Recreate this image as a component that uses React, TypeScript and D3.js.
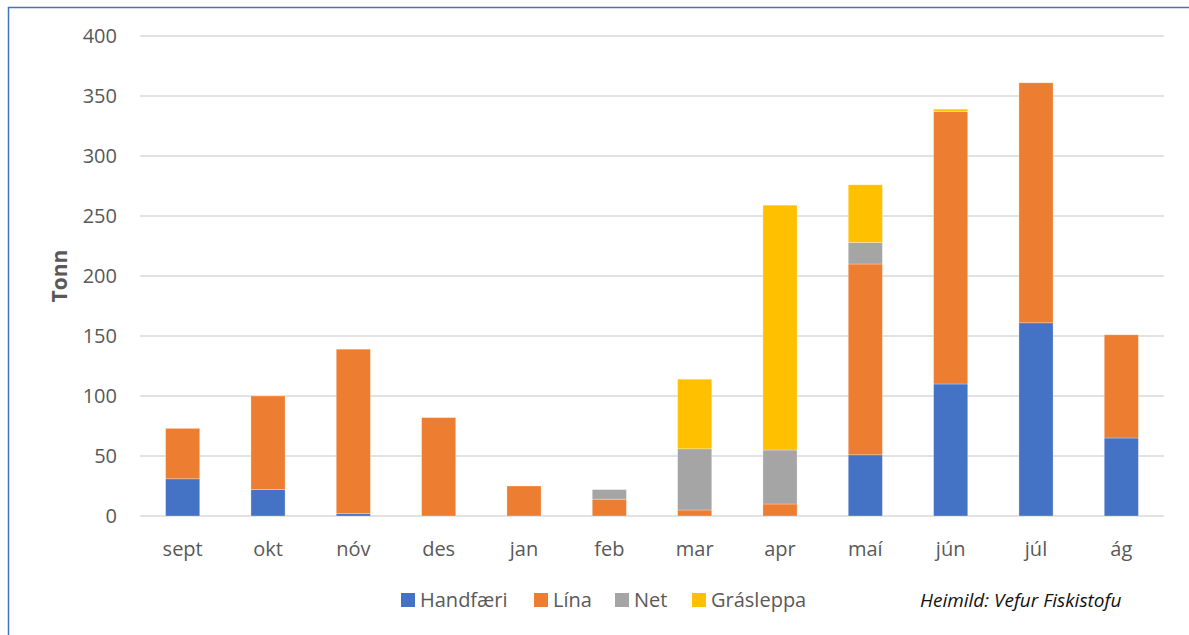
import { useEffect, useRef } from "react";
import * as d3 from "d3";

const months = ["sept", "okt", "nóv", "des", "jan", "feb", "mar", "apr", "maí", "jún", "júl", "ág"];
const handfaeri = [31, 22, 2, 0, 0, 0, 0, 0, 51, 110, 161, 65];
const lina = [42, 78, 137, 82, 25, 14, 5, 10, 159, 227, 200, 86];
const net = [0, 0, 0, 0, 0, 8, 51, 45, 18, 0, 0, 0];
const grasleppa = [0, 0, 0, 0, 0, 0, 58, 204, 48, 2, 0, 0];
const seriesNames = ["Handfæri", "Lína", "Net", "Grásleppa"];
const colors = ["#4472C4", "#ED7D31", "#A5A5A5", "#FFC000"];
const yTicks = [0, 50, 100, 150, 200, 250, 300, 350, 400];

const W = 1189, H = 635;
const m = { l: 140, r: 25, t: 36, b: 119 };
const FONT = "'Open Sans', sans-serif";

export default function App() {
  const ref = useRef<SVGSVGElement | null>(null);

  useEffect(() => {
    const svg = d3.select(ref.current);
    svg.selectAll("*").remove();

    // frame (only top and left edges fall inside the picture)
    svg.append("path")
      .attr("d", `M 8.5 ${H} L 8.5 7.5 L ${W} 7.5`)
      .attr("fill", "none")
      .attr("stroke", "#4472C4")
      .attr("stroke-width", 1.5);

    const x = d3.scaleBand<string>()
      .domain(months)
      .range([m.l, W - m.r])
      .paddingInner(0.6)
      .paddingOuter(0.3);

    const y = d3.scaleLinear().domain([0, 400]).range([H - m.b, m.t]);

    // grid
    svg.append("g")
      .selectAll("line")
      .data(yTicks)
      .enter()
      .append("line")
      .attr("x1", m.l).attr("x2", W - m.r)
      .attr("y1", d => y(d)).attr("y2", d => y(d))
      .attr("stroke", "#d9d9d9")
      .attr("stroke-width", 1.5);

    // y labels
    svg.append("g")
      .selectAll("text")
      .data(yTicks)
      .enter()
      .append("text")
      .attr("x", 117)
      .attr("y", d => y(d))
      .attr("dy", "0.36em")
      .attr("text-anchor", "end")
      .attr("font-family", FONT)
      .attr("font-size", 20)
      .attr("fill", "#595959")
      .text(d => d);

    // x labels
    svg.append("g")
      .selectAll("text")
      .data(months)
      .enter()
      .append("text")
      .attr("x", d => x(d)! + x.bandwidth() / 2)
      .attr("y", 556)
      .attr("text-anchor", "middle")
      .attr("font-family", FONT)
      .attr("font-size", 20)
      .attr("fill", "#595959")
      .text(d => d);

    svg.append("text")
      .attr("transform", `translate(67,${(m.t + H - m.b) / 2}) rotate(-90)`)
      .attr("text-anchor", "middle")
      .attr("font-family", FONT)
      .attr("font-size", 21)
      .attr("font-weight", "bold")
      .attr("fill", "#595959")
      .text("Tonn");

    // stacked bars
    const rows = months.map((mo, i) => ({
      month: mo,
      Handfæri: handfaeri[i],
      Lína: lina[i],
      Net: net[i],
      Grásleppa: grasleppa[i]
    }));
    const stack = d3.stack<any>().keys(seriesNames)(rows);

    stack.forEach((layer, si) => {
      svg.append("g")
        .selectAll("rect")
        .data(layer.filter(d => d[1] - d[0] > 0))
        .enter()
        .append("rect")
        .attr("x", d => x(d.data.month)!)
        .attr("width", x.bandwidth())
        .attr("y", d => y(d[1]))
        .attr("height", d => y(d[0]) - y(d[1]))
        .attr("fill", colors[si])
        .attr("stroke", "white")
        .attr("stroke-opacity", 0.35)
        .attr("stroke-width", 0.8);
    });

    // legend
    const legendX = [401, 534, 615, 692];
    const lg = svg.append("g");
    seriesNames.forEach((name, i) => {
      lg.append("rect")
        .attr("x", legendX[i]).attr("y", 593)
        .attr("width", 14).attr("height", 14)
        .attr("fill", colors[i]);
      lg.append("text")
        .attr("x", legendX[i] + 19)
        .attr("y", 607)
        .attr("font-family", FONT)
        .attr("font-size", 20)
        .attr("fill", "#595959")
        .text(name);
    });

    svg.append("text")
      .attr("x", 920)
      .attr("y", 607)
      .attr("font-family", FONT)
      .attr("font-size", 19)
      .attr("font-style", "italic")
      .attr("fill", "#111")
      .text("Heimild: Vefur Fiskistofu");
  }, []);

  return (
    <svg
      ref={ref}
      width={W}
      height={H}
      style={{ position: "absolute", left: 0, top: 0, background: "white" }}
    />
  );
}
